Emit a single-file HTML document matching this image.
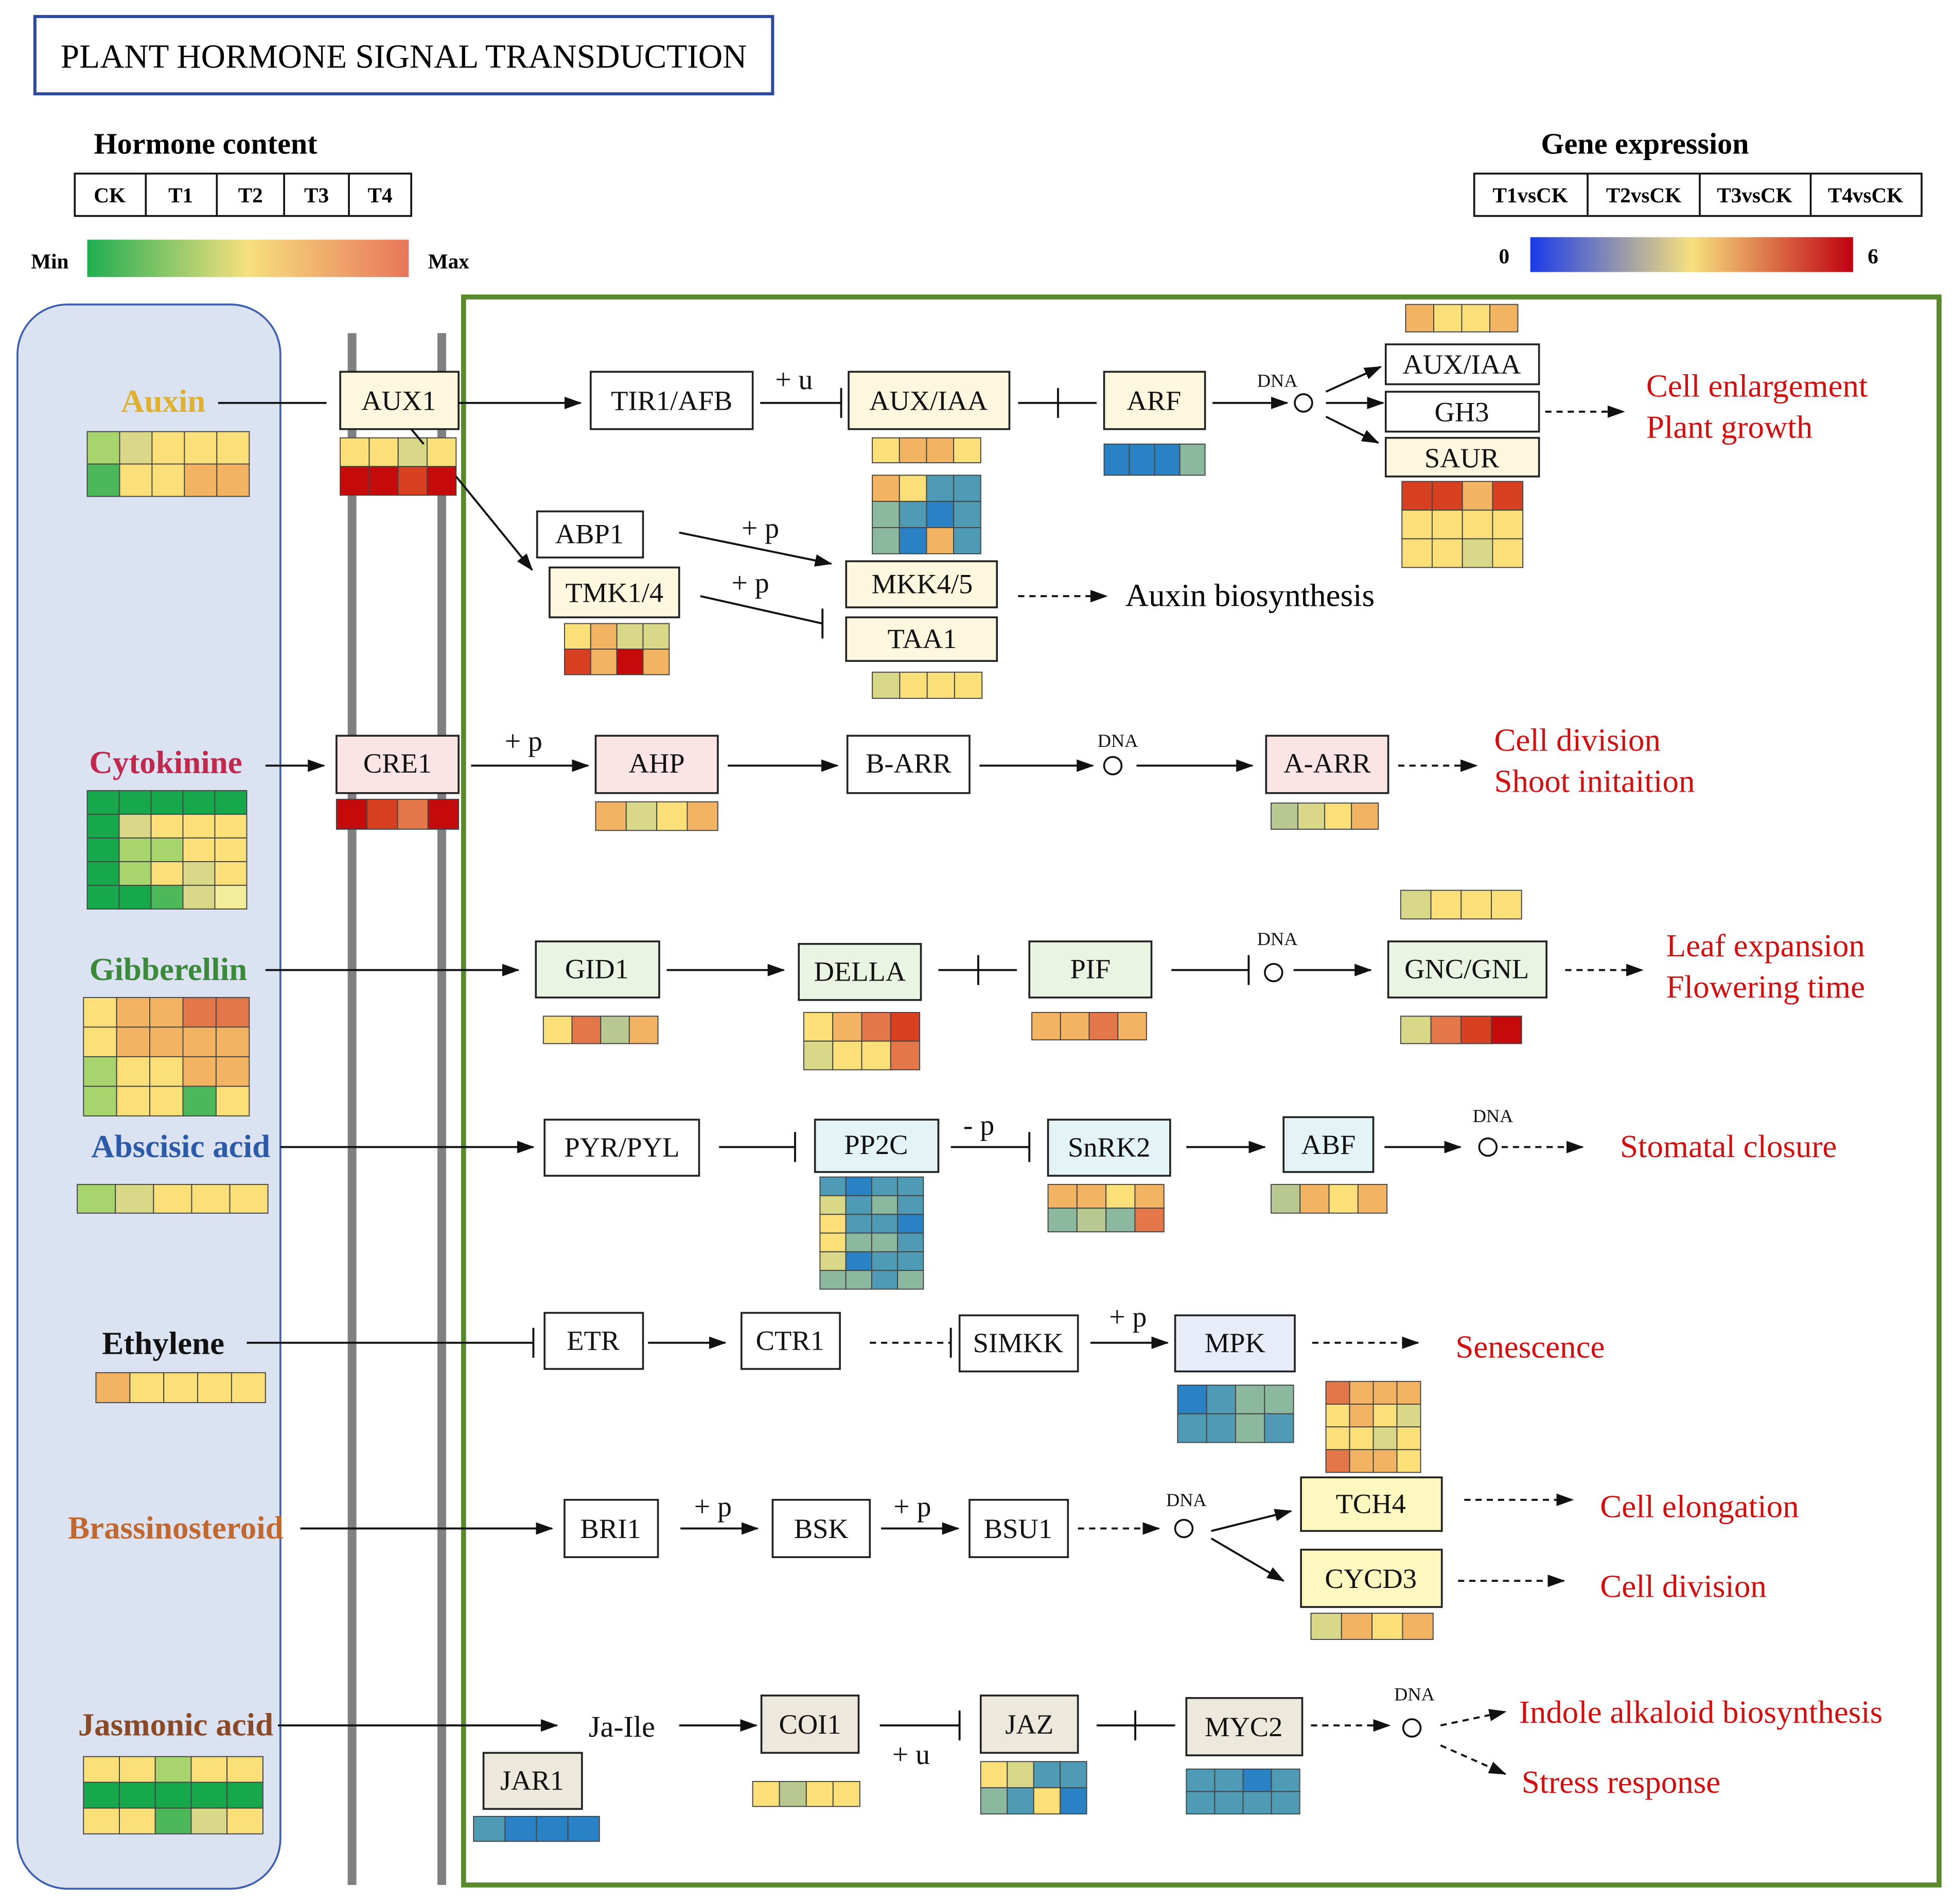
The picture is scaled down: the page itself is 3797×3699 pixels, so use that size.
<!DOCTYPE html>
<html><head><meta charset="utf-8"><style>
html,body{margin:0;padding:0;background:#fff}
svg{display:block}
text{font-family:"Liberation Serif",serif}
.b{fill:#fff;stroke:#222;stroke-width:1.5}
.l{stroke:#111;stroke-width:1.6;fill:none}
.d{stroke:#111;stroke-width:1.6;fill:none;stroke-dasharray:5 4}
.t{font-size:22.5px;text-anchor:middle;dominant-baseline:central;fill:#111}
.r{font-size:26px;fill:#d01010}
.s{font-size:15px;fill:#111;text-anchor:middle}
.p{font-size:23px;fill:#111}
</style></head><body>
<svg id="s" width="3797" height="3699" viewBox="0 0 1568 1527" xmlns="http://www.w3.org/2000/svg">
<defs>
<marker id="a" markerWidth="14" markerHeight="10" refX="13" refY="5" orient="auto" markerUnits="userSpaceOnUse"><path d="M0,0 L14,5 L0,10 Z" fill="#111"/></marker>
<linearGradient id="g1"><stop offset="0" stop-color="#1fae52"/><stop offset="0.5" stop-color="#f7e07e"/><stop offset="1" stop-color="#e8765a"/></linearGradient>
<linearGradient id="g2"><stop offset="0" stop-color="#1a3be8"/><stop offset="0.5" stop-color="#f7e07e"/><stop offset="1" stop-color="#c00010"/></linearGradient>
</defs>
<rect x="28" y="13" width="592" height="62" fill="#fff" stroke="#2e4a9e" stroke-width="2.5"/>
<text x="324" y="54" font-size="27" text-anchor="middle">PLANT HORMONE SIGNAL TRANSDUCTION</text>
<text x="165" y="123" font-size="24" font-weight="bold" text-anchor="middle">Hormone content</text>
<g font-size="17" font-weight="bold" text-anchor="middle">
<rect x="60" y="139" width="270" height="34" fill="#fff" stroke="#111" stroke-width="1.5"/>
<path d="M117 139V173M174 139V173M228 139V173M280 139V173" stroke="#111" stroke-width="1.5"/>
<text x="88" y="162">CK</text><text x="145" y="162">T1</text><text x="201" y="162">T2</text><text x="254" y="162">T3</text><text x="305" y="162">T4</text>
<text x="1320" y="123" font-size="24">Gene expression</text>
<rect x="1183" y="139" width="359" height="34" fill="#fff" stroke="#111" stroke-width="1.5"/>
<path d="M1274 139V173M1364 139V173M1453 139V173" stroke="#111" stroke-width="1.5"/>
<text x="1228" y="162">T1vsCK</text><text x="1319" y="162">T2vsCK</text><text x="1408" y="162">T3vsCK</text><text x="1497" y="162">T4vsCK</text>
<text x="40" y="215">Min</text><text x="360" y="215">Max</text>
<text x="1207" y="211">0</text><text x="1503" y="211">6</text>
</g>
<rect x="70" y="192" width="258" height="30" fill="url(#g1)"/>
<rect x="1228" y="190" width="259" height="28" fill="url(#g2)"/>
<rect x="14" y="244" width="211" height="1271" rx="40" fill="#dbe3f3" stroke="#3d5fb0" stroke-width="1.5"/>
<rect x="279" y="267" width="7" height="1245" fill="#808080"/>
<rect x="351" y="267" width="7" height="1245" fill="#808080"/>
<rect x="372" y="238" width="1184" height="1274" fill="none" stroke="#5a8a2e" stroke-width="4"/>
<g id="hm"></g>

<g font-size="26" font-weight="bold" text-anchor="middle">
<text x="131" y="330" fill="#e0b030">Auxin</text>
<text x="133" y="620" fill="#c0284c">Cytokinine</text>
<text x="135" y="786" fill="#3a8a3a">Gibberellin</text>
<text x="145" y="928" fill="#2b5aa8">Abscisic acid</text>
<text x="131" y="1086" fill="#111">Ethylene</text>
<text x="141" y="1234" fill="#c06830">Brassinosteroid</text>
<text x="141" y="1392" fill="#8a4a28">Jasmonic acid</text>
</g>

<path class="l" d="M175 323H262"/>
<rect class="b" x="273" y="298" width="95" height="46" style="fill:#fdf7e0"/><text class="t" x="320" y="321">AUX1</text>
<path class="l" d="M368 323H466" marker-end="url(#a)"/>
<rect class="b" x="474" y="298" width="130" height="46"/><text class="t" x="539" y="321">TIR1/AFB</text>
<text class="p" x="622" y="312">+ u</text>
<path class="l" d="M610 323H675M675 311V335"/>
<rect class="b" x="681" y="298" width="129" height="46" style="fill:#fdf7e0"/><text class="t" x="745" y="321">AUX/IAA</text>
<path class="l" d="M817 323H880M849 311V335"/>
<rect class="b" x="886" y="298" width="81" height="46" style="fill:#fdf7e0"/><text class="t" x="926" y="321">ARF</text>
<path class="l" d="M973 323H1033" marker-end="url(#a)"/>
<text class="s" x="1025" y="310">DNA</text>
<circle cx="1046" cy="323" r="7" fill="#fff" stroke="#111" stroke-width="1.5"/>
<path class="l" d="M1064 323H1110" marker-end="url(#a)"/>
<path class="l" d="M1064 314L1108 294" marker-end="url(#a)"/>
<path class="l" d="M1064 334L1106 355" marker-end="url(#a)"/>
<rect class="b" x="1112" y="276" width="123" height="32"/><text class="t" x="1173" y="292">AUX/IAA</text>
<rect class="b" x="1112" y="314" width="123" height="32"/><text class="t" x="1173" y="330">GH3</text>
<rect class="b" x="1112" y="351" width="123" height="31" style="fill:#fdf7e0"/><text class="t" x="1173" y="367">SAUR</text>
<path class="d" d="M1240 330H1303" marker-end="url(#a)"/>
<text class="r" x="1321" y="318">Cell enlargement</text>
<text class="r" x="1321" y="351">Plant growth</text>
<path class="l" d="M366 382L427 457" marker-end="url(#a)"/>
<path class="l" d="M330 344L340 356"/>
<rect class="b" x="431" y="410" width="85" height="37"/><text class="t" x="473" y="428">ABP1</text>
<rect class="b" x="441" y="455" width="104" height="40" style="fill:#fdf7e0"/><text class="t" x="493" y="475">TMK1/4</text>
<path class="l" d="M545 427L667 452" marker-end="url(#a)"/>
<text class="p" x="595" y="431">+ p</text>
<path class="l" d="M562 478L660 500M660 488V512"/>
<text class="p" x="587" y="475">+ p</text>
<rect class="b" x="679" y="450" width="121" height="37" style="fill:#fdf7e0"/><text class="t" x="740" y="468">MKK4/5</text>
<rect class="b" x="679" y="495" width="121" height="35" style="fill:#fdf7e0"/><text class="t" x="740" y="512">TAA1</text>
<path class="d" d="M817 478H888" marker-end="url(#a)"/>
<text x="903" y="486" font-size="26">Auxin biosynthesis</text>

<path class="l" d="M213 614H260" marker-end="url(#a)"/>
<rect class="b" x="270" y="590" width="98" height="46" style="fill:#fbe4e6"/><text class="t" x="319" y="612">CRE1</text>
<text class="p" x="405" y="602">+ p</text>
<path class="l" d="M378 614H472" marker-end="url(#a)"/>
<rect class="b" x="478" y="590" width="98" height="46" style="fill:#fbe4e6"/><text class="t" x="527" y="612">AHP</text>
<path class="l" d="M584 614H672" marker-end="url(#a)"/>
<rect class="b" x="680" y="590" width="98" height="46"/><text class="t" x="729" y="612">B-ARR</text>
<path class="l" d="M786 614H877" marker-end="url(#a)"/>
<text class="s" x="897" y="599">DNA</text>
<circle cx="893" cy="614" r="7" fill="#fff" stroke="#111" stroke-width="1.5"/>
<path class="l" d="M912 614H1005" marker-end="url(#a)"/>
<rect class="b" x="1016" y="590" width="98" height="46" style="fill:#fbe4e6"/><text class="t" x="1065" y="612">A-ARR</text>
<path class="d" d="M1122 614H1185" marker-end="url(#a)"/>
<text class="r" x="1199" y="602">Cell division</text>
<text class="r" x="1199" y="635">Shoot initaition</text>

<path class="l" d="M213 778H416" marker-end="url(#a)"/>
<rect class="b" x="430" y="755" width="99" height="45" style="fill:#eaf4e2"/><text class="t" x="479" y="777">GID1</text>
<path class="l" d="M535 778H629" marker-end="url(#a)"/>
<rect class="b" x="641" y="757" width="98" height="45" style="fill:#eaf4e2"/><text class="t" x="690" y="779">DELLA</text>
<path class="l" d="M753 778H816M785 766V790"/>
<rect class="b" x="826" y="755" width="98" height="45" style="fill:#eaf4e2"/><text class="t" x="875" y="777">PIF</text>
<path class="l" d="M940 778H1002M1002 766V790"/>
<text class="s" x="1025" y="758">DNA</text>
<circle cx="1022" cy="780" r="7" fill="#fff" stroke="#111" stroke-width="1.5"/>
<path class="l" d="M1038 778H1100" marker-end="url(#a)"/>
<rect class="b" x="1114" y="755" width="127" height="45" style="fill:#eaf4e2"/><text class="t" x="1177" y="777">GNC/GNL</text>
<path class="d" d="M1256 778H1318" marker-end="url(#a)"/>
<text class="r" x="1337" y="767">Leaf expansion</text>
<text class="r" x="1337" y="800">Flowering time</text>

<path class="l" d="M225 920H428" marker-end="url(#a)"/>
<rect class="b" x="437" y="898" width="124" height="45"/><text class="t" x="499" y="920">PYR/PYL</text>
<path class="l" d="M577 920H638M638 908V932"/>
<rect class="b" x="654" y="898" width="99" height="42" style="fill:#e4f4f6"/><text class="t" x="703" y="918">PP2C</text>
<text class="p" x="773" y="910">- p</text>
<path class="l" d="M763 920H826M826 908V932"/>
<rect class="b" x="841" y="898" width="98" height="45" style="fill:#e4f4f6"/><text class="t" x="890" y="920">SnRK2</text>
<path class="l" d="M952 920H1015" marker-end="url(#a)"/>
<rect class="b" x="1030" y="896" width="72" height="44" style="fill:#e4f4f6"/><text class="t" x="1066" y="918">ABF</text>
<path class="l" d="M1111 920H1172" marker-end="url(#a)"/>
<text class="s" x="1198" y="900">DNA</text>
<circle cx="1194" cy="920" r="7" fill="#fff" stroke="#111" stroke-width="1.5"/>
<path class="d" d="M1205 920H1270" marker-end="url(#a)"/>
<text class="r" x="1300" y="928">Stomatal closure</text>

<path class="l" d="M198 1077H428M428 1065V1089"/>
<rect class="b" x="437" y="1053" width="79" height="45"/><text class="t" x="476" y="1075">ETR</text>
<path class="l" d="M520 1077H582" marker-end="url(#a)"/>
<rect class="b" x="595" y="1053" width="79" height="45"/><text class="t" x="634" y="1075">CTR1</text>
<path class="d" d="M698 1077H763"/><path class="l" d="M763 1065V1089"/>
<rect class="b" x="770" y="1055" width="95" height="45"/><text class="t" x="817" y="1077">SIMKK</text>
<text class="p" x="890" y="1064">+ p</text>
<path class="l" d="M875 1077H937" marker-end="url(#a)"/>
<rect class="b" x="943" y="1055" width="96" height="45" style="fill:#e8ecf8"/><text class="t" x="991" y="1077">MPK</text>
<path class="d" d="M1053 1077H1138" marker-end="url(#a)"/>
<text class="r" x="1168" y="1089">Senescence</text>

<path class="l" d="M241 1226H443" marker-end="url(#a)"/>
<rect class="b" x="453" y="1203" width="75" height="46"/><text class="t" x="490" y="1226">BRI1</text>
<text class="p" x="557" y="1216">+ p</text>
<path class="l" d="M546 1226H608" marker-end="url(#a)"/>
<rect class="b" x="620" y="1203" width="78" height="46"/><text class="t" x="659" y="1226">BSK</text>
<text class="p" x="717" y="1216">+ p</text>
<path class="l" d="M707 1226H769" marker-end="url(#a)"/>
<rect class="b" x="778" y="1203" width="79" height="46"/><text class="t" x="817" y="1226">BSU1</text>
<path class="d" d="M865 1226H930" marker-end="url(#a)"/>
<text class="s" x="952" y="1208">DNA</text>
<circle cx="950" cy="1226" r="7" fill="#fff" stroke="#111" stroke-width="1.5"/>
<path class="l" d="M972 1228L1036 1212" marker-end="url(#a)"/>
<path class="l" d="M972 1234L1030 1268" marker-end="url(#a)"/>
<rect class="b" x="1044" y="1185" width="113" height="43" style="fill:#fdf8c0"/><text class="t" x="1100" y="1206">TCH4</text>
<rect class="b" x="1044" y="1243" width="113" height="46" style="fill:#fdf8c0"/><text class="t" x="1100" y="1266">CYCD3</text>
<path class="d" d="M1175 1203H1262" marker-end="url(#a)"/>
<text class="r" x="1284" y="1217">Cell elongation</text>
<path class="d" d="M1170 1268H1255" marker-end="url(#a)"/>
<text class="r" x="1284" y="1281">Cell division</text>

<path class="l" d="M223 1384H447" marker-end="url(#a)"/>
<text class="t" x="499" y="1385" style="font-size:24px">Ja-Ile</text>
<path class="l" d="M545 1384H607" marker-end="url(#a)"/>
<rect class="b" x="611" y="1360" width="78" height="46" style="fill:#ede8dc"/><text class="t" x="650" y="1383">COI1</text>
<path class="l" d="M706 1384H770M770 1372V1396"/>
<text class="p" x="716" y="1415">+ u</text>
<rect class="b" x="787" y="1360" width="78" height="46" style="fill:#ede8dc"/><text class="t" x="826" y="1383">JAZ</text>
<path class="l" d="M880 1384H943M911 1372V1396"/>
<rect class="b" x="952" y="1362" width="93" height="46" style="fill:#ede8dc"/><text class="t" x="998" y="1385">MYC2</text>
<path class="d" d="M1052 1384H1115" marker-end="url(#a)"/>
<text class="s" x="1135" y="1364">DNA</text>
<circle cx="1133" cy="1386" r="7" fill="#fff" stroke="#111" stroke-width="1.5"/>
<path class="d" d="M1156 1384L1208 1373" marker-end="url(#a)"/>
<path class="d" d="M1156 1400L1208 1423" marker-end="url(#a)"/>
<text class="r" x="1219" y="1382">Indole alkaloid biosynthesis</text>
<text class="r" x="1221" y="1438">Stress response</text>
<rect class="b" x="388" y="1406" width="79" height="45" style="fill:#ede8dc"/><text class="t" x="427" y="1428">JAR1</text>
</svg>
<script>
var C={dg:"#17a84c",g:"#4cb85a",lg:"#a8d46e",k:"#d8d888",kg:"#b8c890",y:"#fbe07a",ly:"#f3ec9a",o:"#f2b462",do:"#e4774a",r:"#d84022",dr:"#c40a0a",b:"#2a82c4",tb:"#4f9ab4",gb:"#8cb8a0"};
var out="";
function hm(x,y,w,h,rows){var nr=rows.length,nc=rows[0].length,cw=w/nc,ch=h/nr;
for(var i=0;i<nr;i++)for(var j=0;j<nc;j++){out+='<rect x="'+(x+j*cw)+'" y="'+(y+i*ch)+'" width="'+cw+'" height="'+ch+'" fill="'+C[rows[i][j]]+'" stroke="#444" stroke-width="0.8"/>';}}
hm(70,346,130,52,[["lg","k","y","y","y"],["g","y","y","o","o"]]);
hm(273,351,93,46,[["y","y","k","y"],["dr","dr","r","dr"]]);
hm(700,351,87,20,[["y","o","o","y"]]);
hm(700,381,87,63,[["o","y","tb","tb"],["gb","tb","b","tb"],["gb","b","o","tb"]]);
hm(886,356,81,25,[["b","b","b","gb"]]);
hm(1128,244,90,22,[["o","y","y","o"]]);
hm(1125,386,97,69,[["r","r","o","r"],["y","y","y","y"],["y","y","k","y"]]);
hm(453,500,84,41,[["y","o","k","k"],["r","o","dr","o"]]);
hm(700,539,88,21,[["k","y","y","y"]]);
hm(70,634,128,95,[["dg","dg","dg","dg","dg"],["dg","k","y","y","y"],["dg","lg","lg","y","y"],["dg","lg","y","k","y"],["dg","dg","g","k","ly"]]);
hm(270,641,98,24,[["dr","r","do","dr"]]);
hm(478,643,98,23,[["o","k","y","o"]]);
hm(1020,644,86,21,[["kg","k","y","o"]]);
hm(67,800,133,95,[["y","o","o","do","do"],["y","o","o","o","o"],["lg","y","y","o","o"],["lg","y","y","g","y"]]);
hm(436,815,92,22,[["y","do","kg","o"]]);
hm(645,812,93,46,[["y","o","do","r"],["k","y","y","do"]]);
hm(828,812,92,22,[["o","o","do","o"]]);
hm(1124,714,97,23,[["k","y","y","y"]]);
hm(1124,815,97,22,[["k","do","r","dr"]]);
hm(62,950,153,23,[["lg","k","y","y","y"]]);
hm(658,944,83,90,[["tb","b","tb","tb"],["k","tb","gb","tb"],["y","tb","tb","b"],["y","gb","gb","tb"],["k","b","tb","tb"],["gb","gb","tb","gb"]]);
hm(841,950,93,38,[["o","o","y","o"],["gb","kg","gb","do"]]);
hm(1020,950,93,23,[["kg","o","y","o"]]);
hm(77,1101,136,24,[["o","y","y","y","y"]]);
hm(945,1111,93,46,[["b","tb","gb","gb"],["tb","tb","gb","tb"]]);
hm(1064,1108,76,73,[["do","o","o","o"],["y","o","y","k"],["y","y","k","y"],["do","o","o","y"]]);
hm(1052,1294,98,21,[["k","o","y","o"]]);
hm(67,1409,144,62,[["y","y","lg","y","y"],["dg","dg","dg","dg","dg"],["y","y","g","k","y"]]);
hm(604,1429,86,20,[["y","kg","y","y"]]);
hm(787,1413,85,42,[["y","k","tb","tb"],["gb","tb","y","b"]]);
hm(952,1419,91,36,[["tb","tb","b","tb"],["tb","tb","tb","tb"]]);
hm(380,1457,101,20,[["tb","b","b","b"]]);
document.getElementById("hm").innerHTML=out;
</script>
</body></html>
